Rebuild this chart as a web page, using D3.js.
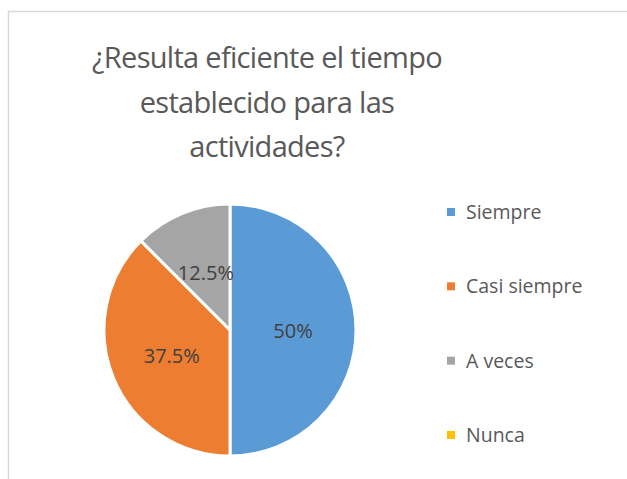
<!DOCTYPE html>
<html>
<head>
<meta charset="utf-8">
<script src="https://cdn.jsdelivr.net/npm/d3@7"></script>
<style>
  body { margin: 0; background: #fff; }
  text { font-family: "Open Sans", sans-serif; }
</style>
</head>
<body>
<div id="chart"></div>
<script>
// Data
const categories = ["Siempre", "Casi siempre", "A veces", "Nunca"];
const values = [50, 37.5, 12.5, 0];
const colors = ["#5b9bd5", "#ed7d31", "#a5a5a5", "#ffc000"];
const titleLines = ["¿Resulta eficiente el tiempo", "establecido para las", "actividades?"];

const width = 627, height = 479;

const svg = d3.select("#chart")
    .append("svg")
    .attr("width", width)
    .attr("height", height);

// chart frame (only top and left edges are visible in the crop)
svg.append("path")
    .attr("d", "M8.5,479 V11.5 H627")
    .attr("fill", "none")
    .attr("stroke", "#d9d9d9")
    .attr("stroke-width", 1.5);

// Title
svg.append("g")
    .selectAll("text")
    .data(titleLines)
    .join("text")
    .attr("x", 267)
    .attr("y", (d, i) => 68 + i * 44.5)
    .attr("text-anchor", "middle")
    .attr("fill", "#595959")
    .attr("font-size", 29)
    .attr("letter-spacing", -0.7)
    .text(d => d);

// Pie
const cx = 230, cy = 330, r = 126;
const pie = d3.pie().sort(null).value(d => d.value);
const arcs = pie(categories.map((c, i) => ({name: c, value: values[i], color: colors[i]})));
const arc = d3.arc().innerRadius(0).outerRadius(r);
const labelArc = d3.arc().innerRadius(r * 0.5).outerRadius(r * 0.5);

const g = svg.append("g").attr("transform", `translate(${cx},${cy})`);

g.selectAll("path")
    .data(arcs.filter(d => d.data.value > 0))
    .join("path")
    .attr("d", arc)
    .attr("fill", d => d.data.color)
    .attr("stroke", "#fff")
    .attr("stroke-width", 3)
    .attr("stroke-linejoin", "round");

g.selectAll("text")
    .data(arcs.filter(d => d.data.value > 0))
    .join("text")
    .attr("transform", d => `translate(${labelArc.centroid(d)})`)
    .attr("text-anchor", "middle")
    .attr("dy", "0.42em")
    .attr("fill", "#404040")
    .attr("font-size", 20)
    .text(d => d.data.value + "%");

// Legend
const y = d3.scalePoint().domain(categories).range([212, 435]);
const legend = svg.append("g")
    .selectAll("g")
    .data(categories)
    .join("g")
    .attr("transform", d => `translate(447,${y(d)})`);

legend.append("rect")
    .attr("x", 0)
    .attr("y", -4)
    .attr("width", 8)
    .attr("height", 8)
    .attr("fill", (d, i) => colors[i]);

legend.append("text")
    .attr("x", 19)
    .attr("dy", "0.36em")
    .attr("fill", "#595959")
    .attr("font-size", 19.5)
    .text(d => d);
</script>
</body>
</html>
